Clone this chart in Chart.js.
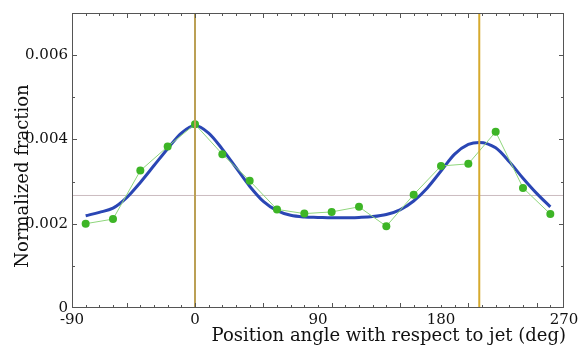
<!DOCTYPE html>
<html>
<head>
<meta charset="utf-8">
<script src="https://cdn.jsdelivr.net/npm/chart.js@4.4.1/dist/chart.umd.min.js"></script>
<style>
  html, body { margin: 0; padding: 0; background: #fff; }
</style>
</head>
<body>
<canvas id="chart" width="586" height="347"></canvas>
<script>
// measured points (green)
const angles = [-80, -60, -40, -20, 0, 20, 40, 60, 80, 100, 120, 140, 160, 180, 200, 220, 240, 260];
const fraction = [0.00200, 0.00211, 0.00326, 0.00383, 0.00436, 0.00365, 0.00302, 0.00234, 0.00224,
                  0.00228, 0.00240, 0.00194, 0.00269, 0.00337, 0.00342, 0.00418, 0.00285, 0.00223];

// fitted curve (blue)
const fitAngles = [-80, -70, -60, -50, -40, -30, -20, -10, 0, 10, 20, 30, 40, 50, 60, 70, 80, 90, 100,
                   110, 120, 130, 140, 150, 160, 170, 180, 190, 200, 208, 220, 230, 240, 250, 260];
const fitValues = [0.00219, 0.00227, 0.00237, 0.00262, 0.00298, 0.00338, 0.00378, 0.00415, 0.00433,
                   0.00415, 0.00377, 0.00333, 0.00289, 0.00253, 0.00231, 0.00220, 0.00216, 0.00215,
                   0.00214, 0.00214, 0.00215, 0.00217, 0.00222, 0.00233, 0.00254, 0.00285, 0.00325,
                   0.00365, 0.00388, 0.00393, 0.00380, 0.00347, 0.00308, 0.00272, 0.00240];

// reference lines
const jetAngles = [0, 208];
const meanLevel = 0.00267;

const xTicks = [-90, 0, 90, 180, 270];
const yTicks = [0, 0.002, 0.004, 0.006];
const xRange = [-90, 270];
const yRange = [0, 0.007];

const serif = '"DejaVu Serif", serif';

function pts(xs, ys) {
    return xs.map((x, i) => ({ x: x, y: ys[i] }));
}

// frame with inward ticks, Mathematica style
const frameTicks = {
    id: 'frameTicks',
    afterDatasetsDraw(chart) {
        const { ctx, chartArea: a, scales: { x, y } } = chart;
        ctx.save();
        ctx.strokeStyle = '#555';
        ctx.lineWidth = 1;
        ctx.strokeRect(Math.round(a.left) + 0.5, Math.round(a.top) + 0.5,
            Math.round(a.right - a.left) - 1, Math.round(a.bottom - a.top) - 1);
        ctx.beginPath();
        for (let v = xRange[0] + 10; v < xRange[1]; v += 10) {
            const px = Math.round(x.getPixelForValue(v)) + 0.5;
            const len = v % 50 === 0 ? 5 : 3;
            ctx.moveTo(px, a.bottom); ctx.lineTo(px, a.bottom - len);
            ctx.moveTo(px, a.top); ctx.lineTo(px, a.top + len);
        }
        for (let k = 1; k < 7; k++) {
            const py = Math.round(y.getPixelForValue(k * 0.001)) + 0.5;
            const len = k % 2 === 0 ? 5 : 3;
            ctx.moveTo(a.left, py); ctx.lineTo(a.left + len, py);
            ctx.moveTo(a.right, py); ctx.lineTo(a.right - len, py);
        }
        ctx.stroke();
        ctx.restore();
    },
    afterDraw(chart) {
        const { ctx, chartArea: a } = chart;
        ctx.save();
        ctx.fillStyle = '#111';
        ctx.font = '18px ' + serif;
        ctx.textAlign = 'right';
        ctx.textBaseline = 'alphabetic';
        ctx.fillText('Position angle with respect to jet (deg)', a.right + 2, 341);
        ctx.translate(28, 176);
        ctx.rotate(-Math.PI / 2);
        ctx.textAlign = 'center';
        ctx.fillText('Normalized fraction', 0, 0);
        ctx.restore();
    }
};

new Chart(document.getElementById('chart'), {
    type: 'line',
    data: {
        datasets: [
            {
                data: pts(xRange, [meanLevel, meanLevel]),
                borderColor: '#cbbcc0',
                borderWidth: 1,
                pointRadius: 0,
                order: 5
            },
            {
                data: pts(fitAngles, fitValues),
                borderColor: '#2a46b4',
                borderWidth: 3,
                pointRadius: 0,
                cubicInterpolationMode: 'monotone',
                order: 4
            },
            {
                data: pts(angles, fraction),
                borderColor: '#8fd67c',
                borderWidth: 1,
                pointRadius: 4,
                pointBackgroundColor: '#3db526',
                pointBorderWidth: 0,
                order: 3
            },
            {
                data: pts([jetAngles[0], jetAngles[0]], yRange),
                borderColor: '#bba055',
                borderWidth: 2,
                pointRadius: 0,
                order: 2
            },
            {
                data: pts([jetAngles[1], jetAngles[1]], yRange),
                borderColor: '#d6aa2e',
                borderWidth: 2,
                pointRadius: 0,
                order: 1
            }
        ]
    },
    options: {
        responsive: false,
        animation: false,
        events: [],
        layout: { padding: { top: 9, right: 22, left: 0, bottom: 0 } },
        plugins: { legend: { display: false }, tooltip: { enabled: false } },
        scales: {
            x: {
                type: 'linear',
                min: xRange[0],
                max: xRange[1],
                afterBuildTicks: s => { s.ticks = xTicks.map(v => ({ value: v })); },
                afterFit: s => { s.height = 39; },
                grid: { display: false, drawTicks: false, tickLength: 0 },
                border: { display: false },
                ticks: {
                    color: '#111',
                    padding: 3,
                    maxRotation: 0,
                    font: { family: serif, size: 15 }
                }
            },
            y: {
                type: 'linear',
                min: yRange[0],
                max: yRange[1],
                afterBuildTicks: s => { s.ticks = yTicks.map(v => ({ value: v })); },
                afterFit: s => { s.width = 72; },
                grid: { display: false, drawTicks: false, tickLength: 0 },
                border: { display: false },
                ticks: {
                    color: '#111',
                    padding: 4,
                    font: { family: serif, size: 15 },
                    callback: v => v === 0 ? '0' : v.toFixed(3)
                }
            }
        }
    },
    plugins: [frameTicks]
});
</script>
</body>
</html>
